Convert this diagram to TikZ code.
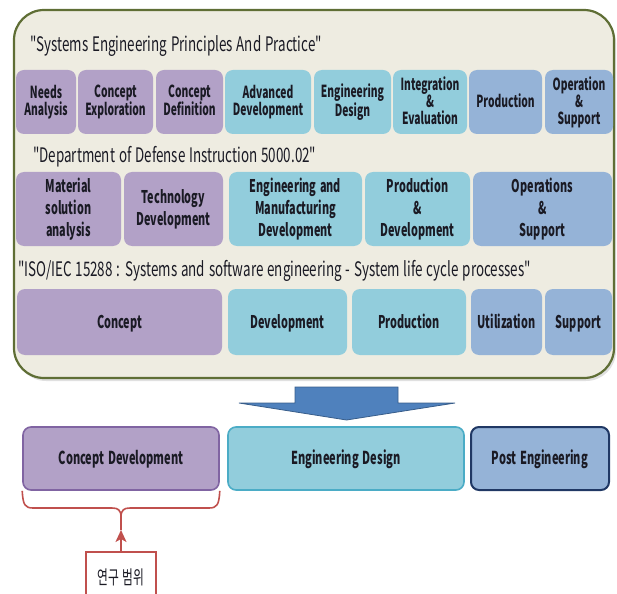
\documentclass[tikz,border=0pt]{standalone}
\usepackage{fontspec}
\setmainfont[FakeStretch=0.62, WordSpace=1.5]{Noto Sans CJK KR}
\newfontfamily\headingfont[FakeStretch=0.67, WordSpace=1.3]{Noto Sans CJK KR}
\usetikzlibrary{arrows.meta}

\definecolor{frameline}{HTML}{5F6E35}
\definecolor{framefill}{HTML}{EEECE1}
\definecolor{lilac}{HTML}{B2A1C7}
\definecolor{aqua}{HTML}{92CDDC}
\definecolor{steel}{HTML}{95B3D7}
\definecolor{lilacline}{HTML}{8064A2}
\definecolor{aqualine}{HTML}{4BACC6}
\definecolor{navyline}{HTML}{203864}
\definecolor{arrowfill}{HTML}{4F81BD}
\definecolor{arrowline}{HTML}{385D8A}
\definecolor{scopered}{HTML}{C0504D}
\definecolor{ink}{HTML}{1A1A24}

% symmetric struts so that cap letters sit in the middle of each box
\newcommand{\toprule}{\rule{0pt}{0.94em}}
\newcommand{\botrule}{\rule[-0.22em]{0pt}{0pt}}

\tikzset{
  phase/.style={rounded corners=8pt, inner sep=0pt, align=center,
    font=\fontsize{16.6}{17}\selectfont\bfseries, text=ink,
    execute at begin node=\toprule, execute at end node=\botrule},
  purplebox/.style={phase, fill=lilac},
  aquabox/.style={phase, fill=aqua},
  bluebox/.style={phase, fill=steel},
  rowtwo/.style={font=\fontsize{17.5}{22}\selectfont\bfseries},
  rowthree/.style={font=\fontsize{17.5}{18}\selectfont\bfseries},
  heading/.style={anchor=base west, inner sep=0pt,
    font=\headingfont\fontsize{20}{21}\selectfont, text=ink},
  stage/.style={phase, font=\fontsize{17.8}{18}\selectfont\bfseries, line width=1.6pt},
}

\begin{document}
\begin{tikzpicture}[x=1pt, y=-1pt]
\useasboundingbox (0,0) rectangle (617,593);
\clip (0,0) rectangle (617,593);

% outer frame holding the three standards
\fill[black!12, rounded corners=30pt] (16,13) rectangle (616,381);
\draw[frameline, fill=framefill, line width=2.2pt, rounded corners=30pt]
  (14,10) rectangle (614,378);

% Systems Engineering Principles And Practice
\node[heading] (t1) at (30,52) {"Systems Engineering Principles And Practice"};
\node[purplebox, minimum width=60pt, minimum height=64pt] (a1) at (46,102) {Needs\\Analysis};
\node[purplebox, minimum width=75pt, minimum height=64pt] (a2) at (115.5,102) {Concept\\Exploration};
\node[purplebox, minimum width=67pt, minimum height=64pt] (a3) at (189.5,102) {Concept\\Definition};
\node[aquabox, minimum width=86pt, minimum height=64pt] (a4) at (268,102) {Advanced\\Development};
\node[aquabox, minimum width=77pt, minimum height=64pt] (a5) at (352.5,102) {Engineering\\Design};
\node[aquabox, minimum width=74pt, minimum height=64pt] (a6) at (430,102) {Integration\\\&\\Evaluation};
\node[bluebox, minimum width=73pt, minimum height=64pt] (a7) at (505.5,102) {Production};
\node[bluebox, minimum width=68pt, minimum height=64pt] (a8) at (579,102) {Operation\\\&\\Support};

% Department of Defense Instruction 5000.02
\node[heading] (t2) at (33,163) {"Department of Defense Instruction 5000.02"};
\node[purplebox, rowtwo, minimum width=105pt, minimum height=74pt] (b1) at (68.5,209) {Material\\solution\\analysis};
\node[purplebox, rowtwo, minimum width=99pt, minimum height=74pt] (b2) at (173.5,209) {Technology\\Development};
\node[aquabox, rowtwo, minimum width=133pt, minimum height=74pt] (b3) at (295.5,209) {Engineering and\\Manufacturing\\Development};
\node[aquabox, rowtwo, minimum width=105pt, minimum height=74pt] (b4) at (417.5,209) {Production\\\&\\Development};
\node[bluebox, rowtwo, minimum width=139pt, minimum height=74pt] (b5) at (542.5,209) {Operations\\\&\\Support};

% ISO/IEC 15288
\node[heading] (t3) at (18,276) {"ISO/IEC 15288 : Systems and software engineering - System life cycle processes"};
\node[purplebox, rowthree, minimum width=205pt, minimum height=66pt] (c1) at (119.5,322) {Concept};
\node[aquabox, rowthree, minimum width=119pt, minimum height=66pt] (c2) at (287.5,322) {Development};
\node[aquabox, rowthree, minimum width=114pt, minimum height=66pt] (c3) at (409,322) {Production};
\node[bluebox, rowthree, minimum width=71pt, minimum height=66pt] (c4) at (506.5,322) {Utilization};
\node[bluebox, rowthree, minimum width=67pt, minimum height=66pt] (c5) at (578.5,322) {Support};

% block arrow down to the merged view
\draw[arrowline, fill=arrowfill, line width=0.8pt, line join=miter]
  (295,387) -- (398,387) -- (398,403) -- (455,403) -- (346.5,420)
  -- (239,403) -- (295,403) -- cycle;

% merged phases
\node[stage, fill=lilac, draw=lilacline, minimum width=196pt, minimum height=63pt] (d1) at (121,458.5) {Concept Development};
\node[stage, fill=aqua, draw=aqualine, minimum width=236pt, minimum height=63pt] (d2) at (346,458.5) {Engineering Design};
\node[stage, fill=steel, draw=navyline, line width=2pt, minimum width=138pt, minimum height=63pt] (d3) at (540,458.5) {Post Engineering};

% scope brace and label
\coordinate (cusp) at (121,530);
\draw[scopered, line width=1.6pt, line join=round]
  (d1.south west) .. controls (23,505) and (25,508) .. (33,508)
  -- (112,508) .. controls (118,508) and (121,510) .. (121,517) -- (cusp);
\draw[scopered, line width=1.6pt, line join=round]
  (d1.south east) .. controls (219,505) and (217,508) .. (209,508)
  -- (130,508) .. controls (124,508) and (121,510) .. (121,517);
\node[draw=scopered, fill=white, line width=1.6pt, minimum width=70pt, minimum height=50pt,
  inner sep=0pt, font=\fontsize{19}{20}\selectfont, text=ink] (scope) at (121,577) {연구 범위};
\draw[scopered, line width=1.6pt, -{Stealth[length=12pt, width=11pt, inset=3pt]}] (scope.north) -- (cusp);
\end{tikzpicture}
\end{document}
